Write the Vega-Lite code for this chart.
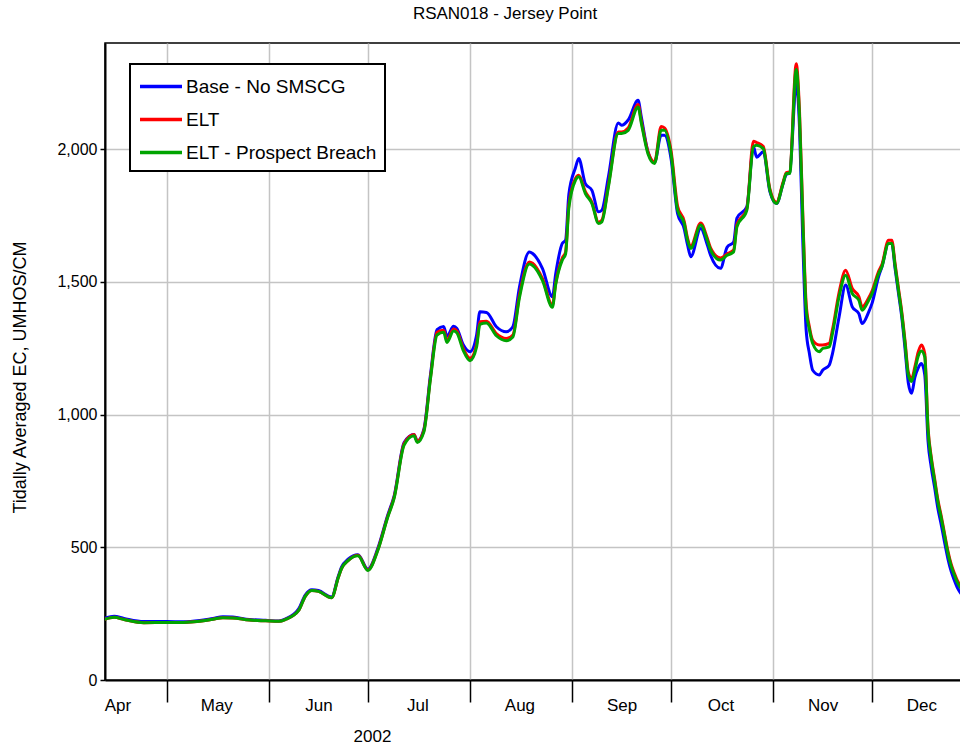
{
  "$schema": "https://vega.github.io/schema/vega-lite/v6.json",
  "width": 856,
  "height": 637,
  "autosize": {"type": "none"},
  "padding": {"left": 105, "top": 43, "right": 0, "bottom": 68},
  "background": "white",
  "title": {"text": "RSAN018 - Jersey Point", "font": "Liberation Sans", "fontSize": 17, "fontWeight": "normal", "color": "black", "anchor": "middle", "frame": "group", "dx": -28, "offset": 20},
  "config": {
    "view": {"stroke": "black", "strokeWidth": 1.5},
    "legend": {"strokeWidth": 2},
    "axis": {"labelFont": "Liberation Sans", "titleFont": "Liberation Sans", "labelColor": "black", "titleColor": "black", "titleFontWeight": "normal", "domainColor": "black", "tickColor": "black", "gridColor": "#c4c4c4", "gridWidth": 1.5}
  },
  "data": {"values": [
    {"date":"2002-04-12","b":232,"e":228,"p":228},
    {"date":"2002-04-15","b":240,"e":236,"p":236},
    {"date":"2002-04-18","b":232,"e":228,"p":228},
    {"date":"2002-04-24","b":220,"e":216,"p":216},
    {"date":"2002-05-01","b":220,"e":217,"p":217},
    {"date":"2002-05-06","b":219,"e":217,"p":217},
    {"date":"2002-05-11","b":224,"e":221,"p":221},
    {"date":"2002-05-15","b":232,"e":229,"p":229},
    {"date":"2002-05-18","b":238,"e":235,"p":235},
    {"date":"2002-05-21","b":237,"e":234,"p":234},
    {"date":"2002-05-26","b":228,"e":226,"p":226},
    {"date":"2002-05-31","b":225,"e":223,"p":223},
    {"date":"2002-06-04","b":222,"e":221,"p":221},
    {"date":"2002-06-06","b":230,"e":228,"p":228},
    {"date":"2002-06-10","b":268,"e":262,"p":262},
    {"date":"2002-06-12","b":320,"e":315,"p":315},
    {"date":"2002-06-14","b":340,"e":337,"p":337},
    {"date":"2002-06-16","b":337,"e":334,"p":334},
    {"date":"2002-06-20","b":313,"e":310,"p":310},
    {"date":"2002-06-22","b":390,"e":385,"p":385},
    {"date":"2002-06-23","b":425,"e":420,"p":420},
    {"date":"2002-06-25","b":455,"e":450,"p":450},
    {"date":"2002-06-28","b":472,"e":470,"p":468},
    {"date":"2002-07-01","b":418,"e":415,"p":413},
    {"date":"2002-07-04","b":495,"e":490,"p":488},
    {"date":"2002-07-07","b":620,"e":615,"p":612},
    {"date":"2002-07-09","b":695,"e":690,"p":686},
    {"date":"2002-07-12","b":895,"e":890,"p":885},
    {"date":"2002-07-15","b":925,"e":925,"p":920},
    {"date":"2002-07-16","b":900,"e":900,"p":895},
    {"date":"2002-07-18","b":945,"e":940,"p":935},
    {"date":"2002-07-20","b":1150,"e":1140,"p":1135},
    {"date":"2002-07-22","b":1320,"e":1310,"p":1300},
    {"date":"2002-07-24","b":1332,"e":1318,"p":1310},
    {"date":"2002-07-25","b":1295,"e":1280,"p":1272},
    {"date":"2002-07-27","b":1333,"e":1322,"p":1315},
    {"date":"2002-07-28","b":1325,"e":1315,"p":1308},
    {"date":"2002-07-30","b":1262,"e":1248,"p":1240},
    {"date":"2002-08-01","b":1237,"e":1212,"p":1203},
    {"date":"2002-08-03","b":1300,"e":1265,"p":1255},
    {"date":"2002-08-04","b":1387,"e":1350,"p":1340},
    {"date":"2002-08-06","b":1385,"e":1352,"p":1345},
    {"date":"2002-08-09","b":1331,"e":1305,"p":1297},
    {"date":"2002-08-12","b":1312,"e":1287,"p":1278},
    {"date":"2002-08-14","b":1331,"e":1300,"p":1292},
    {"date":"2002-08-16","b":1480,"e":1450,"p":1440},
    {"date":"2002-08-19","b":1613,"e":1575,"p":1567},
    {"date":"2002-08-20","b":1607,"e":1570,"p":1562},
    {"date":"2002-08-23","b":1550,"e":1512,"p":1505},
    {"date":"2002-08-26","b":1444,"e":1412,"p":1404},
    {"date":"2002-08-27","b":1530,"e":1495,"p":1490},
    {"date":"2002-08-29","b":1645,"e":1590,"p":1582},
    {"date":"2002-08-30","b":1657,"e":1612,"p":1605},
    {"date":"2002-08-31","b":1830,"e":1790,"p":1780},
    {"date":"2002-09-02","b":1930,"e":1890,"p":1883},
    {"date":"2002-09-03","b":1965,"e":1902,"p":1896},
    {"date":"2002-09-05","b":1870,"e":1840,"p":1833},
    {"date":"2002-09-07","b":1845,"e":1800,"p":1795},
    {"date":"2002-09-09","b":1764,"e":1725,"p":1720},
    {"date":"2002-09-10","b":1770,"e":1732,"p":1726},
    {"date":"2002-09-12","b":1896,"e":1865,"p":1858},
    {"date":"2002-09-15","b":2099,"e":2065,"p":2059},
    {"date":"2002-09-16","b":2090,"e":2065,"p":2059},
    {"date":"2002-09-18","b":2110,"e":2080,"p":2071},
    {"date":"2002-09-21","b":2184,"e":2168,"p":2159},
    {"date":"2002-09-22","b":2120,"e":2105,"p":2097},
    {"date":"2002-09-24","b":1990,"e":1990,"p":1983},
    {"date":"2002-09-26","b":1950,"e":1952,"p":1946},
    {"date":"2002-09-28","b":2052,"e":2085,"p":2071},
    {"date":"2002-09-29","b":2052,"e":2080,"p":2071},
    {"date":"2002-10-01","b":1965,"e":1995,"p":1983},
    {"date":"2002-10-03","b":1757,"e":1785,"p":1770},
    {"date":"2002-10-05","b":1700,"e":1728,"p":1720},
    {"date":"2002-10-06","b":1640,"e":1665,"p":1657},
    {"date":"2002-10-07","b":1595,"e":1635,"p":1626},
    {"date":"2002-10-10","b":1701,"e":1722,"p":1714},
    {"date":"2002-10-12","b":1640,"e":1665,"p":1657},
    {"date":"2002-10-13","b":1600,"e":1628,"p":1620},
    {"date":"2002-10-16","b":1551,"e":1590,"p":1582},
    {"date":"2002-10-18","b":1630,"e":1605,"p":1600},
    {"date":"2002-10-20","b":1650,"e":1620,"p":1613},
    {"date":"2002-10-21","b":1740,"e":1715,"p":1707},
    {"date":"2002-10-24","b":1783,"e":1775,"p":1770},
    {"date":"2002-10-26","b":2009,"e":2030,"p":2009},
    {"date":"2002-10-27","b":1970,"e":2025,"p":2015},
    {"date":"2002-10-29","b":1990,"e":2010,"p":2002},
    {"date":"2002-10-31","b":1840,"e":1850,"p":1845},
    {"date":"2002-11-02","b":1795,"e":1800,"p":1795},
    {"date":"2002-11-04","b":1870,"e":1875,"p":1870},
    {"date":"2002-11-05","b":1905,"e":1912,"p":1908},
    {"date":"2002-11-06","b":1910,"e":1915,"p":1908},
    {"date":"2002-11-08","b":2247,"e":2322,"p":2300},
    {"date":"2002-11-09","b":2080,"e":2140,"p":2122},
    {"date":"2002-11-10","b":1650,"e":1750,"p":1732},
    {"date":"2002-11-11","b":1320,"e":1420,"p":1400},
    {"date":"2002-11-12","b":1230,"e":1330,"p":1320},
    {"date":"2002-11-13","b":1167,"e":1280,"p":1268},
    {"date":"2002-11-15","b":1149,"e":1262,"p":1237},
    {"date":"2002-11-16","b":1167,"e":1262,"p":1249},
    {"date":"2002-11-18","b":1186,"e":1268,"p":1255},
    {"date":"2002-11-19","b":1230,"e":1320,"p":1306},
    {"date":"2002-11-21","b":1368,"e":1460,"p":1444},
    {"date":"2002-11-23","b":1488,"e":1544,"p":1525},
    {"date":"2002-11-25","b":1406,"e":1475,"p":1456},
    {"date":"2002-11-27","b":1380,"e":1445,"p":1431},
    {"date":"2002-11-28","b":1343,"e":1406,"p":1393},
    {"date":"2002-11-30","b":1387,"e":1440,"p":1431},
    {"date":"2002-12-01","b":1419,"e":1465,"p":1456},
    {"date":"2002-12-03","b":1520,"e":1540,"p":1531},
    {"date":"2002-12-04","b":1557,"e":1565,"p":1557},
    {"date":"2002-12-06","b":1645,"e":1657,"p":1645},
    {"date":"2002-12-07","b":1645,"e":1657,"p":1645},
    {"date":"2002-12-08","b":1550,"e":1568,"p":1560},
    {"date":"2002-12-09","b":1460,"e":1478,"p":1470},
    {"date":"2002-12-10","b":1370,"e":1390,"p":1381},
    {"date":"2002-12-11","b":1250,"e":1280,"p":1270},
    {"date":"2002-12-12","b":1120,"e":1160,"p":1150},
    {"date":"2002-12-13","b":1080,"e":1135,"p":1125},
    {"date":"2002-12-14","b":1140,"e":1180,"p":1167},
    {"date":"2002-12-15","b":1175,"e":1235,"p":1220},
    {"date":"2002-12-16","b":1192,"e":1262,"p":1240},
    {"date":"2002-12-17","b":1150,"e":1230,"p":1218},
    {"date":"2002-12-18","b":900,"e":950,"p":941},
    {"date":"2002-12-19","b":800,"e":838,"p":830},
    {"date":"2002-12-20","b":725,"e":758,"p":750},
    {"date":"2002-12-21","b":645,"e":678,"p":670},
    {"date":"2002-12-22","b":585,"e":618,"p":610},
    {"date":"2002-12-23","b":520,"e":552,"p":545},
    {"date":"2002-12-24","b":458,"e":488,"p":480},
    {"date":"2002-12-25","b":410,"e":437,"p":430},
    {"date":"2002-12-26","b":375,"e":402,"p":395},
    {"date":"2002-12-27","b":345,"e":372,"p":365},
    {"date":"2002-12-28","b":325,"e":352,"p":345}
  ]},
  "transform": [{"fold": ["b", "e", "p"], "as": ["series", "ec"]}],
  "mark": {"type": "line", "strokeWidth": 3, "interpolate": "monotone", "clip": true},
  "encoding": {
    "x": {
      "field": "date", "type": "temporal",
      "scale": {"type": "utc", "domain": [{"year": 2002, "month": 4, "date": 12, "hours": 5, "minutes": 30, "utc": true}, {"year": 2002, "month": 12, "date": 28, "utc": true}]},
      "axis": {
        "title": "2002", "titleFontSize": 17, "titleX": 267, "titleY": 56, "titleBaseline": "middle",
        "values": [
          {"year": 2002, "month": 4, "date": 16, "utc": true},
          {"year": 2002, "month": 5, "date": 1, "utc": true},
          {"year": 2002, "month": 5, "date": 16, "utc": true},
          {"year": 2002, "month": 6, "date": 1, "utc": true},
          {"year": 2002, "month": 6, "date": 16, "utc": true},
          {"year": 2002, "month": 7, "date": 1, "utc": true},
          {"year": 2002, "month": 7, "date": 16, "utc": true},
          {"year": 2002, "month": 8, "date": 1, "utc": true},
          {"year": 2002, "month": 8, "date": 16, "utc": true},
          {"year": 2002, "month": 9, "date": 1, "utc": true},
          {"year": 2002, "month": 9, "date": 16, "utc": true},
          {"year": 2002, "month": 10, "date": 1, "utc": true},
          {"year": 2002, "month": 10, "date": 16, "utc": true},
          {"year": 2002, "month": 11, "date": 1, "utc": true},
          {"year": 2002, "month": 11, "date": 16, "utc": true},
          {"year": 2002, "month": 12, "date": 1, "utc": true},
          {"year": 2002, "month": 12, "date": 16, "utc": true}
        ],
        "labelExpr": "utcdate(datum.value) == 1 ? '' : utcFormat(datum.value, '%b')",
        "labelFontSize": 17, "labelAlign": "center", "labelBaseline": "top", "labelPadding": -5,
        "labelOverlap": false, "labelFlush": false, "labelBound": false,
        "tickSize": 22, "tickWidth": 1.5,
        "tickOpacity": {"condition": {"test": "utcdate(datum.value) != 1", "value": 0}, "value": 1},
        "grid": true,
        "gridOpacity": {"condition": {"test": "utcdate(datum.value) != 1", "value": 0}, "value": 1},
        "domainWidth": 2
      }
    },
    "y": {
      "field": "ec", "type": "quantitative",
      "scale": {"domain": [0, 2400], "nice": false},
      "axis": {
        "title": "Tidally Averaged EC, UMHOS/CM", "titleFontSize": 18,
        "titleX": -85, "titleY": 334, "titleAngle": -90, "titleAlign": "center", "titleBaseline": "middle",
        "values": [0, 500, 1000, 1500, 2000], "format": ",.0f",
        "labelFontSize": 16, "labelPadding": 3, "tickSize": 5, "tickWidth": 1.5,
        "grid": true, "domainWidth": 2
      }
    },
    "color": {
      "field": "series", "type": "nominal",
      "scale": {"domain": ["b", "e", "p"], "range": ["#0000ff", "#ff0000", "#00a400"]},
      "legend": {
        "title": null, "orient": "none", "legendX": 25, "legendY": 21, "direction": "vertical",
        "fillColor": "white", "strokeColor": "black", "padding": 8, "cornerRadius": 0,
        "symbolType": "M-1,0H2.36", "symbolSize": 625, "symbolStrokeWidth": 3.5,
        "labelOffset": 19, "rowPadding": 8,
        "labelFont": "Liberation Sans", "labelFontSize": 19, "labelColor": "black", "labelLimit": 400,
        "labelExpr": "datum.label == 'b' ? 'Base - No SMSCG' : datum.label == 'e' ? 'ELT' : 'ELT - Prospect Breach'"
      }
    }
  }
}
